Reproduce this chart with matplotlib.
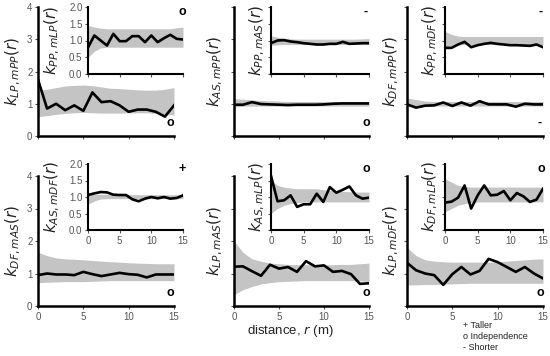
import numpy as np
import matplotlib
matplotlib.use("Agg")
import matplotlib.pyplot as plt

plt.rcParams['font.family'] = ['Liberation Sans', 'DejaVu Sans']
plt.rcParams['mathtext.fontset'] = 'dejavusans'

r = list(range(16))

# ---- Row 1 main panels ----
lp_mpp_obs = [1.75, 0.85, 1.0, 0.8, 0.95, 0.78, 1.35, 1.05, 1.08, 0.95, 0.75, 0.82, 0.82, 0.75, 0.6, 0.95]
lp_mpp_lo = [0.6, 0.63, 0.67, 0.7, 0.72, 0.73, 0.72, 0.71, 0.71, 0.71, 0.72, 0.72, 0.72, 0.7, 0.67, 0.65]
lp_mpp_hi = [1.42, 1.45, 1.5, 1.55, 1.57, 1.58, 1.56, 1.52, 1.48, 1.47, 1.45, 1.43, 1.42, 1.42, 1.45, 1.5]

as_mpp_obs = [0.97, 0.97, 1.05, 0.99, 0.98, 0.97, 0.96, 0.97, 0.97, 0.97, 0.98, 1.0, 1.01, 1.01, 1.01, 1.01]
as_mpp_lo = [0.9, 0.92, 0.93, 0.93, 0.93, 0.93, 0.93, 0.93, 0.93, 0.93, 0.93, 0.93, 0.93, 0.93, 0.93, 0.93]
as_mpp_hi = [1.16, 1.14, 1.12, 1.1, 1.09, 1.08, 1.07, 1.07, 1.07, 1.07, 1.07, 1.07, 1.07, 1.07, 1.07, 1.07]

df_mpp_obs = [0.98, 0.88, 0.94, 0.95, 1.04, 0.93, 1.04, 0.94, 1.08, 0.98, 0.98, 0.98, 0.91, 1.0, 0.98, 0.98]
df_mpp_lo = [0.92, 0.92, 0.93, 0.93, 0.93, 0.93, 0.93, 0.93, 0.93, 0.93, 0.93, 0.93, 0.93, 0.93, 0.93, 0.93]
df_mpp_hi = [1.18, 1.13, 1.08, 1.07, 1.07, 1.07, 1.07, 1.07, 1.07, 1.07, 1.07, 1.07, 1.07, 1.07, 1.07, 1.07]

# ---- Row 1 insets ----
pp_mlp_obs = [0.79, 1.15, 1.0, 0.85, 1.2, 0.98, 0.98, 1.13, 1.13, 0.95, 1.15, 0.95, 1.07, 1.17, 1.05, 1.03]
pp_mlp_lo = [0.5, 0.68, 0.78, 0.8, 0.8, 0.8, 0.8, 0.8, 0.8, 0.8, 0.8, 0.8, 0.8, 0.8, 0.8, 0.8]
pp_mlp_hi = [1.45, 1.4, 1.37, 1.35, 1.35, 1.35, 1.35, 1.35, 1.35, 1.35, 1.35, 1.35, 1.35, 1.35, 1.38, 1.4]

pp_mas_obs = [0.92, 1.0, 1.01, 0.97, 0.95, 0.92, 0.9, 0.88, 0.88, 0.9, 0.9, 0.96, 0.9, 0.91, 0.92, 0.92]
pp_mas_lo = [0.86, 0.87, 0.88, 0.88, 0.88, 0.88, 0.88, 0.88, 0.88, 0.88, 0.88, 0.88, 0.88, 0.88, 0.88, 0.88]
pp_mas_hi = [1.14, 1.1, 1.07, 1.05, 1.04, 1.04, 1.04, 1.04, 1.04, 1.04, 1.04, 1.04, 1.04, 1.04, 1.05, 1.06]

pp_mdf_obs = [0.78, 0.78, 0.88, 0.96, 0.8, 0.86, 0.9, 0.93, 0.9, 0.88, 0.86, 0.86, 0.85, 0.84, 0.88, 0.8]
pp_mdf_lo = [0.8, 0.85, 0.87, 0.88, 0.88, 0.88, 0.88, 0.88, 0.88, 0.88, 0.88, 0.88, 0.88, 0.88, 0.88, 0.88]
pp_mdf_hi = [1.27, 1.18, 1.13, 1.12, 1.12, 1.12, 1.12, 1.12, 1.12, 1.12, 1.12, 1.12, 1.12, 1.12, 1.12, 1.12]

# ---- Row 2 main panels ----
df_mas_obs = [0.95, 1.0, 0.97, 0.97, 0.95, 1.05, 0.98, 0.92, 0.97, 1.02, 0.98, 0.96, 0.88, 0.97, 0.97, 0.97]
df_mas_lo = [0.72, 0.73, 0.74, 0.75, 0.75, 0.75, 0.76, 0.77, 0.78, 0.78, 0.78, 0.78, 0.78, 0.78, 0.78, 0.78]
df_mas_hi = [1.65, 1.55, 1.48, 1.45, 1.44, 1.42, 1.4, 1.38, 1.36, 1.35, 1.33, 1.32, 1.31, 1.3, 1.3, 1.3]

lp_mas_obs = [1.21, 1.22, 1.07, 0.93, 1.27, 1.15, 1.2, 1.05, 1.38, 1.22, 1.25, 1.05, 1.08, 0.98, 0.68, 0.7]
lp_mas_lo = [0.35, 0.5, 0.6, 0.68, 0.72, 0.75, 0.76, 0.77, 0.78, 0.78, 0.78, 0.78, 0.78, 0.78, 0.77, 0.75]
lp_mas_hi = [2.0, 1.65, 1.45, 1.38, 1.32, 1.3, 1.28, 1.27, 1.27, 1.27, 1.27, 1.27, 1.28, 1.28, 1.3, 1.32]

lp_mdf_obs = [1.33, 1.1, 1.0, 0.95, 0.65, 0.98, 1.2, 0.97, 1.08, 1.45, 1.35, 1.2, 1.05, 1.2, 1.0, 0.85]
lp_mdf_lo = [0.65, 0.65, 0.66, 0.66, 0.67, 0.68, 0.69, 0.7, 0.7, 0.7, 0.7, 0.7, 0.7, 0.7, 0.7, 0.7]
lp_mdf_hi = [1.8, 1.55, 1.42, 1.38, 1.36, 1.35, 1.35, 1.35, 1.35, 1.35, 1.36, 1.38, 1.4, 1.42, 1.44, 1.45]

# ---- Row 2 insets ----
as_mdf_obs = [1.06, 1.11, 1.15, 1.14, 1.07, 1.06, 1.06, 0.93, 0.87, 0.95, 1.0, 0.96, 1.0, 0.95, 0.97, 1.05]
as_mdf_lo = [0.78, 0.88, 0.94, 0.95, 0.95, 0.95, 0.95, 0.95, 0.95, 0.95, 0.95, 0.95, 0.95, 0.95, 0.95, 0.95]
as_mdf_hi = [1.08, 1.08, 1.08, 1.08, 1.08, 1.07, 1.07, 1.07, 1.07, 1.07, 1.07, 1.07, 1.07, 1.07, 1.07, 1.07]

as_mlp_obs = [1.64, 0.87, 0.9, 1.05, 0.7, 0.78, 0.78, 1.1, 0.85, 1.3, 1.13, 1.22, 1.32, 1.05, 0.95, 0.98]
as_mlp_lo = [0.5, 0.65, 0.75, 0.8, 0.83, 0.85, 0.85, 0.85, 0.85, 0.85, 0.85, 0.85, 0.85, 0.85, 0.85, 0.85]
as_mlp_hi = [1.5, 1.35, 1.3, 1.27, 1.25, 1.25, 1.25, 1.25, 1.22, 1.2, 1.18, 1.17, 1.16, 1.15, 1.15, 1.15]

df_mlp_obs = [0.83, 0.86, 0.98, 1.35, 0.65, 1.05, 1.35, 1.05, 1.07, 1.18, 0.9, 1.12, 1.02, 0.85, 0.92, 1.25]
df_mlp_lo = [0.55, 0.65, 0.75, 0.8, 0.83, 0.85, 0.85, 0.85, 0.85, 0.85, 0.85, 0.85, 0.85, 0.85, 0.85, 0.85]
df_mlp_hi = [1.55, 1.45, 1.35, 1.32, 1.3, 1.3, 1.3, 1.3, 1.3, 1.3, 1.3, 1.3, 1.3, 1.3, 1.3, 1.3]

main_ticks = [0, 1, 2, 3, 4]
inset_ticks = [0.0, 0.5, 1.0, 1.5, 2.0]
x_ticks = [0, 5, 10, 15]

W, H = 550, 356
fig = plt.figure(figsize=(W / 100, H / 100), dpi=100)


def px_axes(l, t, rr, b):
    return fig.add_axes([l / W, 1 - b / H, (rr - l) / W, (b - t) / H])


GRAY = '#c4c4c4'
TICKC = '#555555'


def style(ax, ylim, yt, ylabels_on, xlabels_on, lw):
    ax.set_xlim(0, 15)
    ax.set_ylim(*ylim)
    ax.set_xticks(x_ticks)
    ax.set_yticks(yt)
    for s in ['top', 'right']:
        ax.spines[s].set_visible(False)
    for s in ['left', 'bottom']:
        ax.spines[s].set_linewidth(lw)
        ax.spines[s].set_color('black')
    ax.tick_params(direction='out', length=2.5, width=0.8, color=TICKC,
                   labelsize=7, labelcolor=TICKC, pad=1.5)
    if ylabels_on:
        if ylim[1] == 2:
            ax.set_yticklabels(['%.1f' % v for v in yt])
        else:
            ax.set_yticklabels([str(v) for v in yt])
    else:
        ax.set_yticklabels([])
    if not xlabels_on:
        ax.set_xticklabels([])
    ax.patch.set_alpha(0)


def draw(ax, obs, lo, hi):
    ax.fill_between(r, lo, hi, color=GRAY, lw=0, zorder=1)
    ax.plot(r, obs, color='black', lw=1.9, zorder=3, solid_joinstyle='round')


def mark(ax, x, y, s, size=9):
    ax.text(x, y, s, transform=ax.transAxes, ha='center', va='center',
            fontsize=size, fontweight='bold', color='black')


cols = [(38, 174), (234, 369), (407, 543)]
icols = [(88, 183), (271, 369), (445, 543)]
rows = [(7, 136), (176, 306)]
irows = [(7, 74), (164, 230)]

main_data = [
    [(lp_mpp_obs, lp_mpp_lo, lp_mpp_hi, r'$k_{LP,mPP}\left(r\right)$', 'o'),
     (as_mpp_obs, as_mpp_lo, as_mpp_hi, r'$k_{AS,mPP}\left(r\right)$', 'o'),
     (df_mpp_obs, df_mpp_lo, df_mpp_hi, r'$k_{DF,mPP}\left(r\right)$', '-')],
    [(df_mas_obs, df_mas_lo, df_mas_hi, r'$k_{DF,mAS}\left(r\right)$', 'o'),
     (lp_mas_obs, lp_mas_lo, lp_mas_hi, r'$k_{LP,mAS}\left(r\right)$', 'o'),
     (lp_mdf_obs, lp_mdf_lo, lp_mdf_hi, r'$k_{LP,mDF}\left(r\right)$', 'o')],
]
inset_data = [
    [(pp_mlp_obs, pp_mlp_lo, pp_mlp_hi, r'$k_{PP,mLP}\left(r\right)$', 'o'),
     (pp_mas_obs, pp_mas_lo, pp_mas_hi, r'$k_{PP,mAS}\left(r\right)$', '-'),
     (pp_mdf_obs, pp_mdf_lo, pp_mdf_hi, r'$k_{PP,mDF}\left(r\right)$', '-')],
    [(as_mdf_obs, as_mdf_lo, as_mdf_hi, r'$k_{AS,mDF}\left(r\right)$', '+'),
     (as_mlp_obs, as_mlp_lo, as_mlp_hi, r'$k_{AS,mLP}\left(r\right)$', 'o'),
     (df_mlp_obs, df_mlp_lo, df_mlp_hi, r'$k_{DF,mLP}\left(r\right)$', 'o')],
]

main_lbl_x = [13, 215, 391]
inset_lbl_x = [52, 257, 430]
main_mark_x = [170, 366, 540]
inset_mark_x = [182, 366, 541]

for i in range(2):
    for j in range(3):
        l, rr = cols[j]
        t, b = rows[i]
        ax = px_axes(l, t, rr, b)
        obs, lo, hi, lbl, m = main_data[i][j]
        draw(ax, obs, lo, hi)
        style(ax, (0, 4), main_ticks, j == 0, i == 1, 1.8)
        ax.set_ylabel(lbl, fontsize=11, color='#222222', va='center')
        ax.yaxis.set_label_coords((main_lbl_x[j] - l) / (rr - l), 0.5)
        mark(ax, (main_mark_x[j] - l) / (rr - l), 0.1, m)

        il, ir = icols[j]
        it, ib = irows[i]
        ax2 = px_axes(il, it, ir, ib)
        obs, lo, hi, lbl, m = inset_data[i][j]
        draw(ax2, obs, lo, hi)
        style(ax2, (0, 2), inset_ticks, j == 0, i == 1, 1.5)
        ax2.set_ylabel(lbl, fontsize=11, color='#222222', va='center')
        ax2.yaxis.set_label_coords((inset_lbl_x[j] - il) / (ir - il), 0.5)
        mark(ax2, (inset_mark_x[j] - il) / (ir - il), 0.93, m)

fig.text(290 / W, 1 - 331 / H, 'distance, $r$ (m)', ha='center', va='center',
         fontsize=9.5, color='#222222')

legend_items = ['+ Taller', 'o Independence', '- Shorter']
for k, s in enumerate(legend_items):
    fig.text(463 / W, 1 - (325 + 11.5 * k) / H, s, ha='left', va='center',
             fontsize=6.5, color='#222222')

fig.savefig('out.png', dpi=100)
